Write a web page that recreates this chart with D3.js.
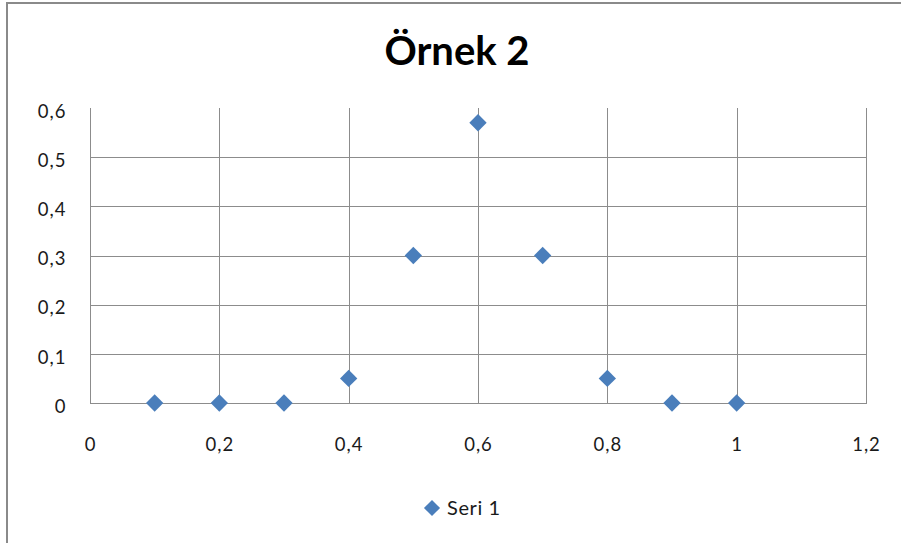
<!DOCTYPE html>
<html>
<head>
<meta charset="utf-8">
<script src="https://cdn.jsdelivr.net/npm/d3@7"></script>
<style>
  html, body { margin: 0; padding: 0; background: #fff; }
  svg { display: block; }
  text { font-family: Lato, "Open Sans", sans-serif; fill: #1a1a1a; }
</style>
</head>
<body>
<svg id="chart" width="901" height="543"></svg>
<script>
// Series data
const seriesName = "Seri 1";
const xValues = [0.1, 0.2, 0.3, 0.4, 0.5, 0.6, 0.7, 0.8, 0.9, 1.0];
const yValues = [0, 0, 0, 0.05, 0.3, 0.57, 0.3, 0.05, 0, 0];

// Axis ticks
const xTicks = [0, 0.2, 0.4, 0.6, 0.8, 1.0, 1.2];
const yTicks = [0, 0.1, 0.2, 0.3, 0.4, 0.5, 0.6];
const chartTitle = "Örnek 2";

const points = xValues.map((x, i) => ({ x, y: yValues[i] }));

// Turkish number style: comma as decimal separator
const tr = d3.formatLocale({ decimal: ",", thousands: ".", grouping: [3], currency: ["", " ₺"] });
const fmt = v => tr.format("~g")(+v.toFixed(2));

const svg = d3.select("#chart");
const plot = { left: 90, right: 866, top: 108, bottom: 403 };
const markerColor = "#4a7ebb";
const gridColor = "#8c8c8c";

const x = d3.scaleLinear().domain([0, 1.2]).range([plot.left, plot.right]);
const y = d3.scaleLinear().domain([0, 0.6]).range([plot.bottom, plot.top]);

// Outer chart frame
svg.append("rect")
  .attr("x", 7).attr("y", 3)
  .attr("width", 1000).attr("height", 1000)
  .attr("fill", "none")
  .attr("stroke", "#8a8a8a")
  .attr("stroke-width", 2);

// Title
svg.append("text")
  .attr("x", 457).attr("y", 65)
  .attr("text-anchor", "middle")
  .style("font-size", "40px")
  .style("font-weight", "bold")
  .style("fill", "#000")
  .text(chartTitle);

// Horizontal gridlines (the 0.6 line is not drawn)
svg.append("g")
  .selectAll("line")
  .data(yTicks.filter(t => t > 0 && t < 0.6))
  .join("line")
  .attr("x1", plot.left).attr("x2", plot.right)
  .attr("y1", d => Math.round(y(d)) + 0.5).attr("y2", d => Math.round(y(d)) + 0.5)
  .attr("stroke", gridColor).attr("stroke-width", 1);

// Vertical gridlines
svg.append("g")
  .selectAll("line")
  .data(xTicks.filter(t => t > 0))
  .join("line")
  .attr("x1", d => Math.round(x(d)) + 0.5).attr("x2", d => Math.round(x(d)) + 0.5)
  .attr("y1", plot.top).attr("y2", plot.bottom)
  .attr("stroke", gridColor).attr("stroke-width", 1);

const labelStyle = sel => sel
  .style("font-size", "18.5px")
  .style("font-family", "Lato, sans-serif")
  .style("letter-spacing", "1px")
  .attr("fill", "#1a1a1a");

// Y axis
const yAxis = svg.append("g")
  .attr("transform", `translate(${plot.left + 0.5},0)`)
  .call(d3.axisLeft(y).tickValues(yTicks).tickFormat(fmt).tickSize(0).tickPadding(24));
yAxis.select(".domain").attr("stroke", gridColor).attr("d", `M0,${plot.top}V${plot.bottom + 0.5}`);
yAxis.selectAll("text").attr("dy", "0.5em").call(labelStyle);

// X axis
const xAxis = svg.append("g")
  .attr("transform", `translate(0,${plot.bottom + 0.5})`)
  .call(d3.axisBottom(x).tickValues(xTicks).tickFormat(fmt).tickSize(0).tickPadding(34));
xAxis.select(".domain").attr("stroke", gridColor).attr("d", `M${plot.left},0H${plot.right + 1}`);
xAxis.selectAll("text").call(labelStyle);

// Diamond markers
const diamond = d3.symbol().type(d3.symbolSquare).size(150);
svg.append("g")
  .selectAll("path")
  .data(points)
  .join("path")
  .attr("d", diamond)
  .attr("transform", d => `translate(${x(d.x)},${y(d.y)}) rotate(45)`)
  .attr("fill", markerColor);

// Legend
const legend = svg.append("g").attr("transform", "translate(432,508)");
legend.append("path")
  .attr("d", d3.symbol().type(d3.symbolSquare).size(130))
  .attr("transform", "rotate(45)")
  .attr("fill", markerColor);
legend.append("text")
  .attr("x", 15).attr("y", 7)
  .style("font-size", "20px")
  .style("letter-spacing", "0.6px")
  .text(seriesName);
</script>
</body>
</html>
